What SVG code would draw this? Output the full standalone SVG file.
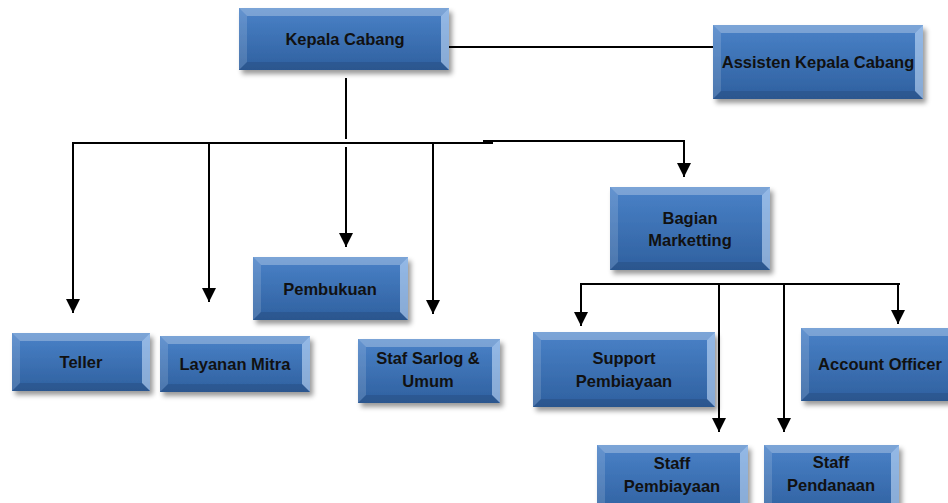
<svg xmlns="http://www.w3.org/2000/svg" width="948" height="503" viewBox="0 0 948 503">
<defs>
<linearGradient id="g" x1="0" y1="0" x2="0" y2="1">
<stop offset="0" stop-color="#4a82c8"/>
<stop offset="1" stop-color="#2f609f"/>
</linearGradient>
<filter id="sh" x="-10%" y="-10%" width="125%" height="135%">
<feDropShadow dx="3" dy="4" stdDeviation="2.5" flood-color="#000" flood-opacity="0.4"/>
</filter>
<marker id="ar" viewBox="0 0 14 14" refX="14" refY="7" markerWidth="14" markerHeight="14" markerUnits="userSpaceOnUse" orient="auto">
<path d="M0,0 L14,7 L0,14 Z" fill="#000"/>
</marker>
</defs>
<style>
.box{fill:url(#g);filter:url(#sh)}
.bt{fill:#fff;fill-opacity:0.28}
.bl{fill:#fff;fill-opacity:0.14}
.br{fill:#cfe6ff;fill-opacity:0.55}
.bb{fill:#000;fill-opacity:0.1}
text{font-family:"Liberation Sans",Arial,sans-serif;font-weight:bold;font-size:16.5px;fill:#111;text-anchor:middle}
.ln{stroke:#000;stroke-width:2;fill:none}
.la{stroke:#000;stroke-width:2;fill:none;marker-end:url(#ar)}
</style>
<rect width="948" height="503" fill="#fff"/>

<g id="connectors">
<line class="ln" x1="446" y1="47" x2="714" y2="47"/>
<line class="ln" x1="346" y1="78" x2="346" y2="139"/>
<line class="ln" x1="72" y1="143" x2="493" y2="143"/>
<line class="ln" x1="483" y1="141" x2="685" y2="141"/>
<line class="la" x1="73" y1="143" x2="73" y2="313"/>
<line class="la" x1="209" y1="143" x2="209" y2="302"/>
<line class="la" x1="346" y1="147" x2="346" y2="247"/>
<line class="la" x1="433" y1="143" x2="433" y2="314"/>
<line class="la" x1="684" y1="141" x2="684" y2="177"/>
<line class="ln" x1="580" y1="284" x2="900" y2="284"/>
<line class="la" x1="581" y1="284" x2="581" y2="326"/>
<line class="la" x1="719" y1="284" x2="719" y2="432"/>
<line class="la" x1="784" y1="284" x2="784" y2="432"/>
<line class="la" x1="898" y1="284" x2="898" y2="324"/>
</g>

<g id="kepala-cabang" transform="translate(239,8)">
<rect class="box" width="210" height="62"/>
<polygon class="bt" points="0,0 210,0 202,8 8,8"/>
<polygon class="bl" points="0,0 8,8 8,54 0,62"/>
<polygon class="br" points="210,0 210,62 202,54 202,8"/>
<polygon class="bb" points="0,62 210,62 202,54 8,54"/>
<text x="106" y="37">Kepala Cabang</text>
</g>

<g id="assisten-kepala-cabang" transform="translate(713,25)">
<rect class="box" width="210" height="74"/>
<polygon class="bt" points="0,0 210,0 202,8 8,8"/>
<polygon class="bl" points="0,0 8,8 8,66 0,74"/>
<polygon class="br" points="210,0 210,74 202,66 202,8"/>
<polygon class="bb" points="0,74 210,74 202,66 8,66"/>
<text x="105" y="43">Assisten Kepala Cabang</text>
</g>

<g id="teller" transform="translate(12,333)">
<rect class="box" width="138" height="58"/>
<polygon class="bt" points="0,0 138,0 130,8 8,8"/>
<polygon class="bl" points="0,0 8,8 8,50 0,58"/>
<polygon class="br" points="138,0 138,58 130,50 130,8"/>
<polygon class="bb" points="0,58 138,58 130,50 8,50"/>
<text x="69" y="35">Teller</text>
</g>

<g id="layanan-mitra" transform="translate(160,336)">
<rect class="box" width="150" height="56"/>
<polygon class="bt" points="0,0 150,0 142,8 8,8"/>
<polygon class="bl" points="0,0 8,8 8,48 0,56"/>
<polygon class="br" points="150,0 150,56 142,48 142,8"/>
<polygon class="bb" points="0,56 150,56 142,48 8,48"/>
<text x="75" y="34">Layanan Mitra</text>
</g>

<g id="pembukuan" transform="translate(253,257)">
<rect class="box" width="155" height="63"/>
<polygon class="bt" points="0,0 155,0 147,8 8,8"/>
<polygon class="bl" points="0,0 8,8 8,55 0,63"/>
<polygon class="br" points="155,0 155,63 147,55 147,8"/>
<polygon class="bb" points="0,63 155,63 147,55 8,55"/>
<text x="77" y="38">Pembukuan</text>
</g>

<g id="staf-sarlog-umum" transform="translate(358,339)">
<rect class="box" width="142" height="64"/>
<polygon class="bt" points="0,0 142,0 134,8 8,8"/>
<polygon class="bl" points="0,0 8,8 8,56 0,64"/>
<polygon class="br" points="142,0 142,64 134,56 134,8"/>
<polygon class="bb" points="0,64 142,64 134,56 8,56"/>
<text x="70" y="25">Staf Sarlog &amp;</text>
<text x="70" y="48">Umum</text>
</g>

<g id="bagian-marketting" transform="translate(610,187)">
<rect class="box" width="160" height="83"/>
<polygon class="bt" points="0,0 160,0 152,8 8,8"/>
<polygon class="bl" points="0,0 8,8 8,75 0,83"/>
<polygon class="br" points="160,0 160,83 152,75 152,8"/>
<polygon class="bb" points="0,83 160,83 152,75 8,75"/>
<text x="80" y="37">Bagian</text>
<text x="80" y="59">Marketting</text>
</g>

<g id="support-pembiayaan" transform="translate(533,332)">
<rect class="box" width="182" height="75"/>
<polygon class="bt" points="0,0 182,0 174,8 8,8"/>
<polygon class="bl" points="0,0 8,8 8,67 0,75"/>
<polygon class="br" points="182,0 182,75 174,67 174,8"/>
<polygon class="bb" points="0,75 182,75 174,67 8,67"/>
<text x="91" y="32">Support</text>
<text x="91" y="55">Pembiayaan</text>
</g>

<g id="account-officer" transform="translate(801,328)">
<rect class="box" width="162" height="73"/>
<polygon class="bt" points="0,0 162,0 154,8 8,8"/>
<polygon class="bl" points="0,0 8,8 8,65 0,73"/>
<polygon class="bb" points="0,73 162,73 154,65 8,65"/>
<text x="79" y="42">Account Officer</text>
</g>

<g id="staff-pembiayaan" transform="translate(597,445)">
<rect class="box" width="151" height="70"/>
<polygon class="bt" points="0,0 151,0 143,8 8,8"/>
<polygon class="bl" points="0,0 8,8 8,62 0,70"/>
<polygon class="br" points="151,0 151,70 143,62 143,8"/>
<text x="75" y="24">Staff</text>
<text x="75" y="47">Pembiayaan</text>
</g>

<g id="staff-pendanaan" transform="translate(764,445)">
<rect class="box" width="135" height="70"/>
<polygon class="bt" points="0,0 135,0 127,8 8,8"/>
<polygon class="bl" points="0,0 8,8 8,62 0,70"/>
<polygon class="br" points="135,0 135,70 127,62 127,8"/>
<text x="67" y="23">Staff</text>
<text x="67" y="46">Pendanaan</text>
</g>
</svg>
